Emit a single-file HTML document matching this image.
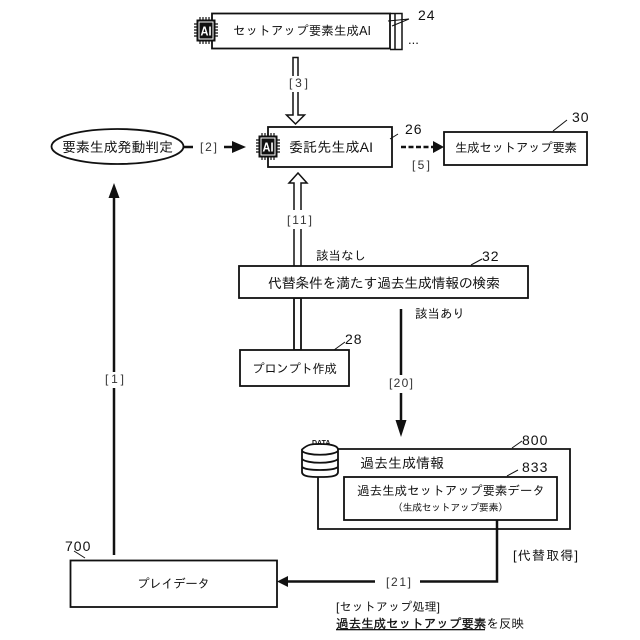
<!DOCTYPE html>
<html><head><meta charset="utf-8">
<style>
html,body{margin:0;padding:0;background:#fff}
svg{display:block}
text{font-family:"Liberation Sans","IPAGothic","Noto Sans CJK JP",sans-serif;fill:#111}
.j{font-size:14px}
.k{font-size:12.5px}
.l{font-size:12px;fill:#333}
.n{font-size:14px;letter-spacing:1px}
</style></head><body>
<svg width="640" height="640" viewBox="0 0 640 640" xmlns="http://www.w3.org/2000/svg">
<defs>
<g id="chip">
<rect x="3.500" y="3.500" width="17" height="20" fill="#fff" stroke="#111" stroke-width="2"/>
<rect x="5.500" y="5.500" width="13" height="16" fill="#111"/>
<path d="M0 7h4M0 10h4M0 13h4M0 16h4M0 19h4M20 7h4M20 10h4M20 13h4M20 16h4M20 19h4M6 0v4M9 0v4M12 0v4M15 0v4M18 0v4M6 23v4M9 23v4M12 23v4M15 23v4M18 23v4" stroke="#111" stroke-width="1.2"/>
<text x="6.500" y="18.500" font-size="13" font-weight="bold" textLength="11" lengthAdjust="spacingAndGlyphs" style="fill:#fff">AI</text>
</g>
</defs>
<g fill="none" stroke="#111">
<path d="M390 13.500H395V49.500H390M395 13.500H402V49.500H395" stroke-width="1.500"/>
<rect x="212" y="13.500" width="178" height="35" stroke-width="1.800" fill="#fff"/>
<path d="M388 21L409 19M392 26L409 19" stroke-width="1"/>
<path d="M293 76V57.500H298V76M293 92V115H286.500L295.500 124L304.500 115H298V92" stroke-width="1.500" fill="#fff"/>
<rect x="268" y="127" width="124" height="40" stroke-width="1.800" fill="#fff"/>
<path d="M390 139L398 134M553 131L567 120M471 265L482 259M334 350L345 342M512 448L522 441M507 476L518 470M85 558L74 551" stroke-width="1"/>
<ellipse cx="117.500" cy="146.500" rx="66" ry="17.500" stroke-width="1.800" fill="#fff"/>
<rect x="444" y="132" width="143" height="33" stroke-width="1.800" fill="#fff"/>
<path d="M294 210V183H289L298 173L307 183H301V210M294 229V266M301 229V266" stroke-width="1.500" fill="#fff"/>
<rect x="294" y="298" width="7" height="52" stroke-width="1.800" fill="#fff"/>
<rect x="239" y="266" width="289" height="32" stroke-width="1.800" fill="#fff"/>
<rect x="240" y="350" width="109" height="36" stroke-width="1.800" fill="#fff"/>
<path d="M318 475V529H570V449H338" stroke-width="1.800"/>
<rect x="344" y="477" width="213" height="43" stroke-width="1.800" fill="#fff"/>
<rect x="70.500" y="560.500" width="206.500" height="46.500" stroke-width="1.800" fill="#fff"/>
<path d="M401 309V375M401 393V422M497 520V581.500H420M375 581.500H285" stroke-width="2.500"/>
<path d="M114 555V388M114 372V195" stroke-width="2.500"/>
<path d="M183 147H193M224 147H234" stroke-width="2.500"/>
<path d="M401 147H434" stroke-width="2.500" stroke-dasharray="5 2.500"/>
<path d="M302 449.500C308 444 312 444 320 444C328 444 338 445 338 449.500V472C338 477 328 477 320 477C312 477 302 477 302 472Z" stroke-width="1.800" fill="#fff"/>
<path d="M302 451C307 456 333 456 338 451M302 459C307 464 333 464 338 459M302 467C307 471 333 471 338 467" stroke-width="1.800"/>
</g>
<path d="M401 437L395.500 420H406.500ZM114 183L108.500 198H119.500ZM246 147L232 141V153ZM444 147L433 141V153ZM277 581.500L288 576V587Z" fill="#111"/>
<use href="#chip" x="194" y="17"/>
<use href="#chip" x="256" y="133"/>
<text class="k" x="233" y="35" textLength="138">セットアップ要素生成AI</text>
<text class="n" x="418" y="20">24</text>
<text x="408" y="44" font-size="13">...</text>
<text class="l" x="289" y="87" textLength="19">[3]</text>
<text class="j" x="62" y="152" textLength="111">要素生成発動判定</text>
<text class="l" x="200" y="151" textLength="17">[2]</text>
<text class="j" x="289" y="152" textLength="84">委託先生成AI</text>
<text class="n" x="405" y="134">26</text>
<text class="k" x="455" y="152" textLength="122">生成セットアップ要素</text>
<text class="n" x="572" y="122">30</text>
<text class="l" x="412" y="169" textLength="18">[5]</text>
<text class="l" x="287" y="224" textLength="25">[11]</text>
<text x="316" y="260" font-size="12.500" textLength="50">該当なし</text>
<text class="n" x="482" y="261">32</text>
<text class="j" x="268" y="288" textLength="232">代替条件を満たす過去生成情報の検索</text>
<text x="415" y="318" font-size="12.500" textLength="50">該当あり</text>
<text class="n" x="345" y="344">28</text>
<text class="k" x="252" y="373" textLength="85">プロンプト作成</text>
<text class="l" x="389" y="387" textLength="24">[20]</text>
<text class="l" x="105" y="383" textLength="19">[1]</text>
<text x="312" y="445" font-size="7" font-weight="bold">DATA</text>
<text class="n" x="522" y="445">800</text>
<text class="j" x="360" y="468" textLength="84">過去生成情報</text>
<text class="n" x="522" y="472">833</text>
<text class="k" x="357" y="495" textLength="188">過去生成セットアップ要素データ</text>
<text x="393" y="511" font-size="10" textLength="115">（生成セットアップ要素）</text>
<text class="n" x="65" y="551">700</text>
<text class="k" x="137" y="588" textLength="73">プレイデータ</text>
<text class="l" x="386" y="586" textLength="25">[21]</text>
<text x="513" y="560" font-size="13" textLength="65">[代替取得]</text>
<text x="336" y="611" font-size="12" textLength="104">[セットアップ処理]</text>
<text x="336" y="628" font-size="12.500" textLength="188"><tspan stroke="#111" stroke-width="0.300">過去生成セットアップ要素</tspan>を反映</text>
<rect x="336" y="629" width="149" height="1.300" fill="#111"/>
</svg>
</body></html>
